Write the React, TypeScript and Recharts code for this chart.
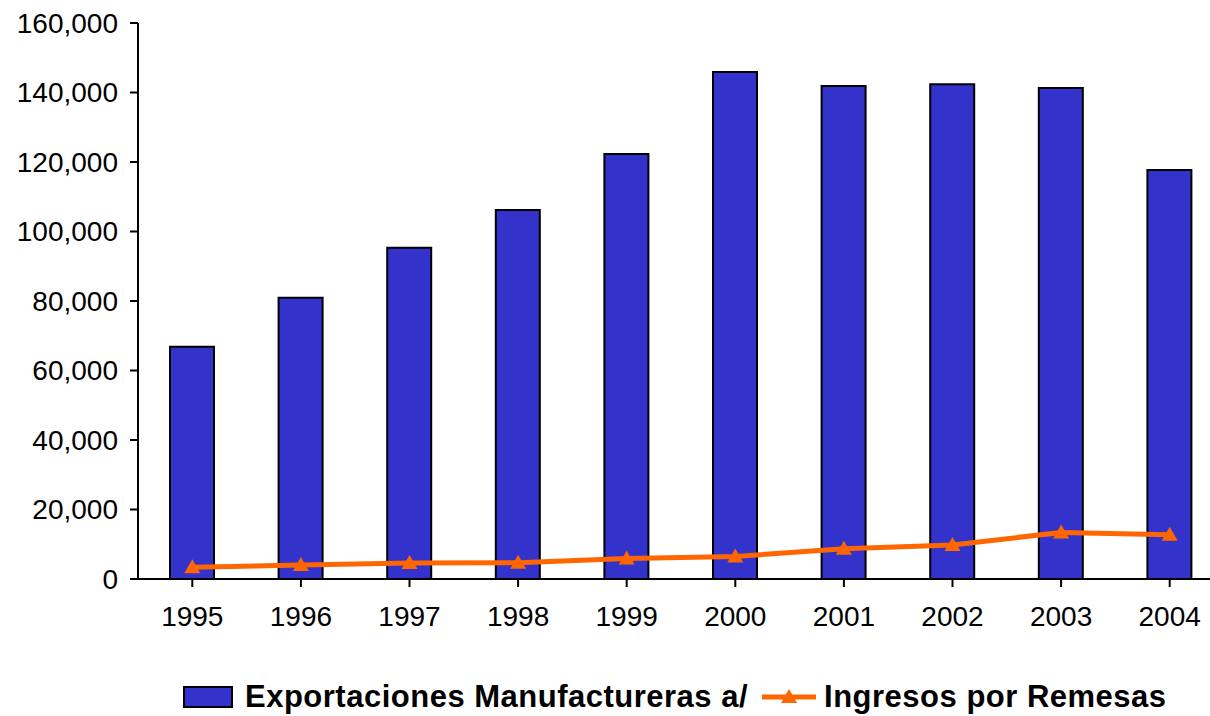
import * as React from 'react';
import {Bar, ComposedChart, Legend, Line, XAxis, YAxis} from 'recharts';

const years = ['1995', '1996', '1997', '1998', '1999', '2000', '2001', '2002', '2003', '2004'];
const exportaciones = [66800, 80900, 95300, 106200, 122300, 145900, 141900, 142400, 141300, 117700];
const remesas = [3400, 4000, 4600, 4700, 5900, 6500, 8700, 9800, 13400, 12700];
const yTicks = [0, 20000, 40000, 60000, 80000, 100000, 120000, 140000, 160000];

const data = years.map((year, i) => ({
    year,
    exportaciones: exportaciones[i],
    remesas: remesas[i],
}));

const FONT = '"Liberation Sans", Arial, sans-serif';
const BAR_COLOR = '#3333CC';
const LINE_COLOR = '#FF6600';

const Triangle = (props: any) => {
    const {cx, cy} = props;
    if (cx == null || cy == null) return null;
    return (
        <path
            d={`M${cx},${cy - 8} L${cx + 8},${cy + 6} L${cx - 8},${cy + 6} Z`}
            fill={LINE_COLOR}
        />
    );
};

const LegendContent = () => (
    <div
        style={{
            height: 70,
            display: 'flex',
            alignItems: 'center',
            paddingLeft: 183,
            paddingTop: 32,
            boxSizing: 'border-box',
            fontFamily: FONT,
            fontWeight: 'bold',
            fontSize: 31,
            letterSpacing: 0.5,
            color: '#000',
            whiteSpace: 'nowrap',
        }}>
        <svg width={50} height={22} style={{marginRight: 12}}>
            <rect x={1} y={1} width={48} height={20} fill={BAR_COLOR} stroke="#000" strokeWidth={2} />
        </svg>
        <span>Exportaciones Manufactureras a/</span>
        <svg width={54} height={22} style={{marginLeft: 14, marginRight: 8}}>
            <line x1={0} y1={11} x2={54} y2={11} stroke={LINE_COLOR} strokeWidth={5} />
            <path d="M27,3 L35,17 L19,17 Z" fill={LINE_COLOR} />
        </svg>
        <span>Ingresos por Remesas</span>
    </div>
);

export default function App() {
    return (
        <div style={{position: 'absolute', left: 0, top: 0, width: 1210, height: 716, overflow: 'hidden', background: '#fff'}}>
            <ComposedChart
                width={1224}
                height={716}
                data={data}
                margin={{top: 23, right: 0, bottom: 0, left: 0}}>
                <XAxis
                    dataKey="year"
                    height={67}
                    axisLine={{stroke: '#000', strokeWidth: 2}}
                    tickLine={{stroke: '#000', strokeWidth: 2}}
                    tickSize={8}
                    tickMargin={19}
                    tick={{fill: '#000', fontSize: 28, fontFamily: FONT}}
                    interval={0}
                />
                <YAxis
                    width={138}
                    domain={[0, 160000]}
                    ticks={yTicks}
                    interval={0}
                    axisLine={{stroke: '#000', strokeWidth: 2}}
                    tickLine={{stroke: '#000', strokeWidth: 2}}
                    tickSize={8}
                    tickMargin={12}
                    tick={{fill: '#000', fontSize: 28, fontFamily: FONT}}
                    tickFormatter={(v: number) => v.toLocaleString('en-US')}
                />
                <Legend verticalAlign="bottom" content={<LegendContent />} wrapperStyle={{left: 0, width: 1224}} />
                <Bar
                    dataKey="exportaciones"
                    name="Exportaciones Manufactureras a/"
                    fill={BAR_COLOR}
                    stroke="#000"
                    strokeWidth={2}
                    barSize={44}
                    isAnimationActive={false}
                />
                <Line
                    dataKey="remesas"
                    name="Ingresos por Remesas"
                    stroke={LINE_COLOR}
                    strokeWidth={5}
                    dot={<Triangle />}
                    activeDot={false}
                    isAnimationActive={false}
                />
            </ComposedChart>
        </div>
    );
}
